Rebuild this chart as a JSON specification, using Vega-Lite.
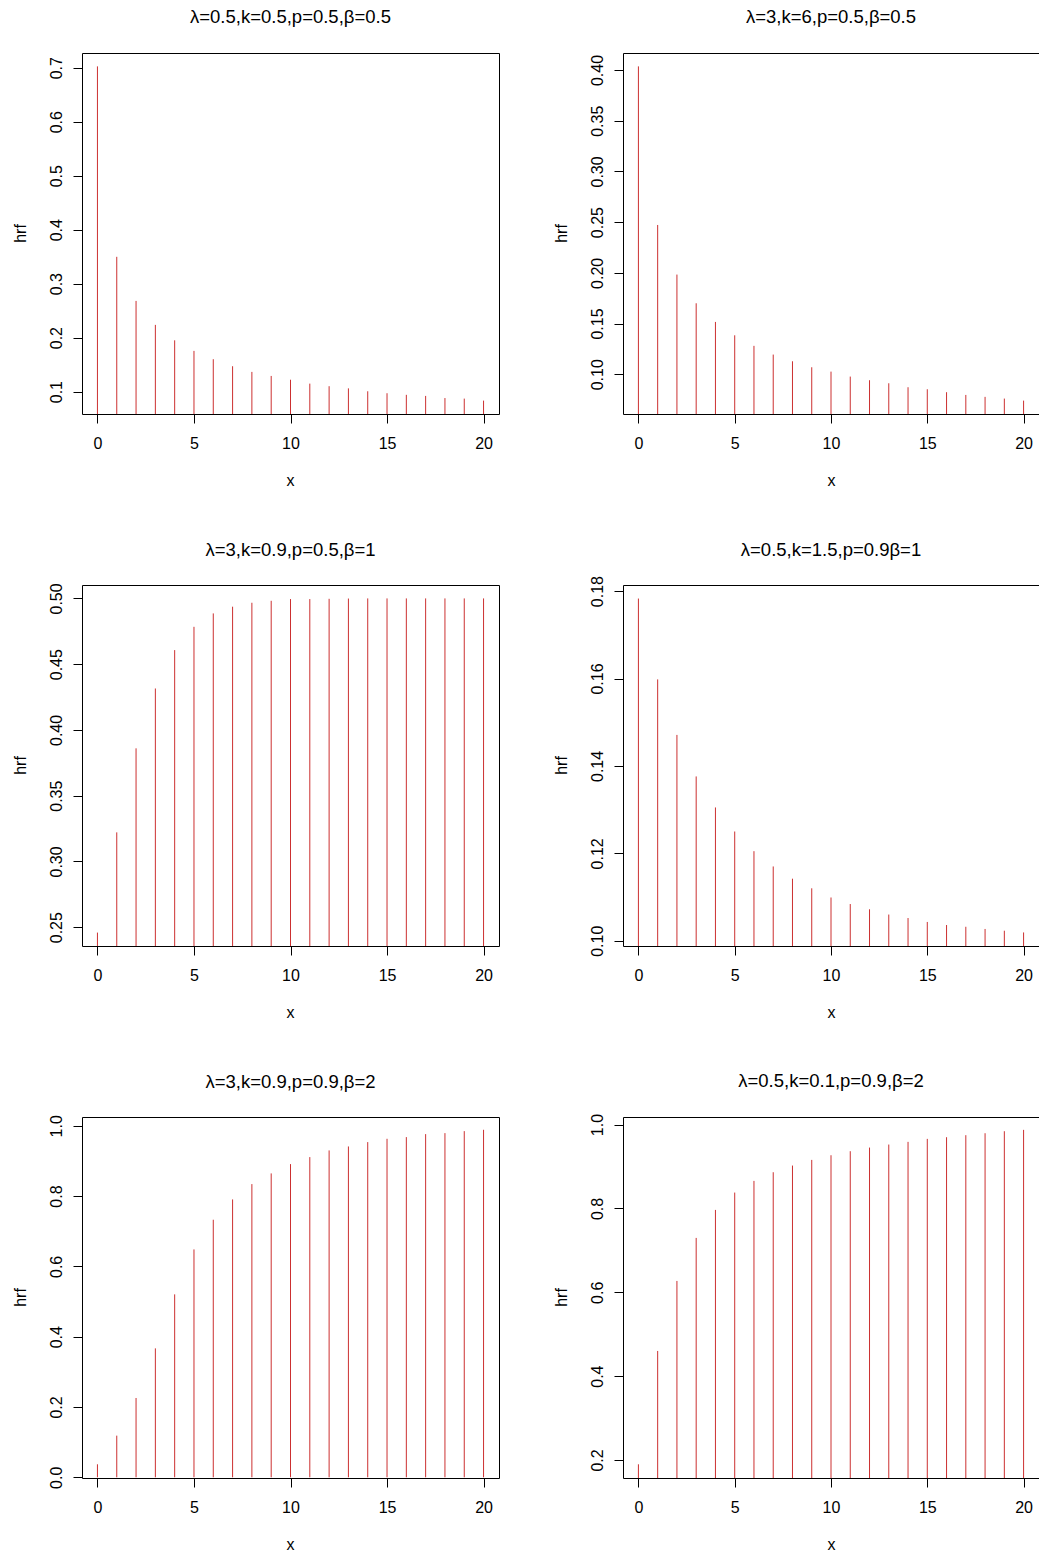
{
  "$schema": "https://vega.github.io/schema/vega-lite/v6.json",
  "background": "white",
  "padding": {"left": 11, "top": 7, "right": 0, "bottom": 0},
  "datasets": {
    "hrf": [
      {"panel":1,"x":0,"hrf":0.7025},{"panel":1,"x":1,"hrf":0.3497},{"panel":1,"x":2,"hrf":0.268},{"panel":1,"x":3,"hrf":0.2236},{"panel":1,"x":4,"hrf":0.195},{"panel":1,"x":5,"hrf":0.1754},{"panel":1,"x":6,"hrf":0.16},{"panel":1,"x":7,"hrf":0.147},{"panel":1,"x":8,"hrf":0.1365},{"panel":1,"x":9,"hrf":0.129},{"panel":1,"x":10,"hrf":0.122},{"panel":1,"x":11,"hrf":0.1148},{"panel":1,"x":12,"hrf":0.110},{"panel":1,"x":13,"hrf":0.106},{"panel":1,"x":14,"hrf":0.1006},{"panel":1,"x":15,"hrf":0.097},{"panel":1,"x":16,"hrf":0.094},{"panel":1,"x":17,"hrf":0.092},{"panel":1,"x":18,"hrf":0.088},{"panel":1,"x":19,"hrf":0.087},{"panel":1,"x":20,"hrf":0.0833},
      {"panel":2,"x":0,"hrf":0.4036},{"panel":2,"x":1,"hrf":0.2472},{"panel":2,"x":2,"hrf":0.1983},{"panel":2,"x":3,"hrf":0.170},{"panel":2,"x":4,"hrf":0.1516},{"panel":2,"x":5,"hrf":0.1384},{"panel":2,"x":6,"hrf":0.128},{"panel":2,"x":7,"hrf":0.1194},{"panel":2,"x":8,"hrf":0.1128},{"panel":2,"x":9,"hrf":0.1069},{"panel":2,"x":10,"hrf":0.1026},{"panel":2,"x":11,"hrf":0.0977},{"panel":2,"x":12,"hrf":0.0941},{"panel":2,"x":13,"hrf":0.0911},{"panel":2,"x":14,"hrf":0.0872},{"panel":2,"x":15,"hrf":0.0852},{"panel":2,"x":16,"hrf":0.0823},{"panel":2,"x":17,"hrf":0.0796},{"panel":2,"x":18,"hrf":0.0777},{"panel":2,"x":19,"hrf":0.076},{"panel":2,"x":20,"hrf":0.074},
      {"panel":3,"x":0,"hrf":0.2459},{"panel":3,"x":1,"hrf":0.3221},{"panel":3,"x":2,"hrf":0.386},{"panel":3,"x":3,"hrf":0.4315},{"panel":3,"x":4,"hrf":0.4607},{"panel":3,"x":5,"hrf":0.4784},{"panel":3,"x":6,"hrf":0.4886},{"panel":3,"x":7,"hrf":0.4937},{"panel":3,"x":8,"hrf":0.4967},{"panel":3,"x":9,"hrf":0.4982},{"panel":3,"x":10,"hrf":0.4995},{"panel":3,"x":11,"hrf":0.4995},{"panel":3,"x":12,"hrf":0.4997},{"panel":3,"x":13,"hrf":0.4999},{"panel":3,"x":14,"hrf":0.5},{"panel":3,"x":15,"hrf":0.5},{"panel":3,"x":16,"hrf":0.5},{"panel":3,"x":17,"hrf":0.5},{"panel":3,"x":18,"hrf":0.5},{"panel":3,"x":19,"hrf":0.5},{"panel":3,"x":20,"hrf":0.5},
      {"panel":4,"x":0,"hrf":0.1783},{"panel":4,"x":1,"hrf":0.1598},{"panel":4,"x":2,"hrf":0.1471},{"panel":4,"x":3,"hrf":0.1376},{"panel":4,"x":4,"hrf":0.1305},{"panel":4,"x":5,"hrf":0.125},{"panel":4,"x":6,"hrf":0.1205},{"panel":4,"x":7,"hrf":0.117},{"panel":4,"x":8,"hrf":0.1142},{"panel":4,"x":9,"hrf":0.112},{"panel":4,"x":10,"hrf":0.1099},{"panel":4,"x":11,"hrf":0.1084},{"panel":4,"x":12,"hrf":0.1072},{"panel":4,"x":13,"hrf":0.106},{"panel":4,"x":14,"hrf":0.1052},{"panel":4,"x":15,"hrf":0.1043},{"panel":4,"x":16,"hrf":0.1036},{"panel":4,"x":17,"hrf":0.1032},{"panel":4,"x":18,"hrf":0.1027},{"panel":4,"x":19,"hrf":0.1023},{"panel":4,"x":20,"hrf":0.1019},
      {"panel":5,"x":0,"hrf":0.037},{"panel":5,"x":1,"hrf":0.1185},{"panel":5,"x":2,"hrf":0.2256},{"panel":5,"x":3,"hrf":0.3668},{"panel":5,"x":4,"hrf":0.5204},{"panel":5,"x":5,"hrf":0.6483},{"panel":5,"x":6,"hrf":0.7327},{"panel":5,"x":7,"hrf":0.7905},{"panel":5,"x":8,"hrf":0.8341},{"panel":5,"x":9,"hrf":0.8645},{"panel":5,"x":10,"hrf":0.891},{"panel":5,"x":11,"hrf":0.9109},{"panel":5,"x":12,"hrf":0.9299},{"panel":5,"x":13,"hrf":0.9412},{"panel":5,"x":14,"hrf":0.9536},{"panel":5,"x":15,"hrf":0.963},{"panel":5,"x":16,"hrf":0.9678},{"panel":5,"x":17,"hrf":0.9763},{"panel":5,"x":18,"hrf":0.9791},{"panel":5,"x":19,"hrf":0.9848},{"panel":5,"x":20,"hrf":0.9886},
      {"panel":6,"x":0,"hrf":0.1897},{"panel":6,"x":1,"hrf":0.46},{"panel":6,"x":2,"hrf":0.627},{"panel":6,"x":3,"hrf":0.7296},{"panel":6,"x":4,"hrf":0.7964},{"panel":6,"x":5,"hrf":0.8378},{"panel":6,"x":6,"hrf":0.8656},{"panel":6,"x":7,"hrf":0.8863},{"panel":6,"x":8,"hrf":0.9022},{"panel":6,"x":9,"hrf":0.9157},{"panel":6,"x":10,"hrf":0.9268},{"panel":6,"x":11,"hrf":0.9364},{"panel":6,"x":12,"hrf":0.9451},{"panel":6,"x":13,"hrf":0.9523},{"panel":6,"x":14,"hrf":0.9587},{"panel":6,"x":15,"hrf":0.9658},{"panel":6,"x":16,"hrf":0.9698},{"panel":6,"x":17,"hrf":0.9746},{"panel":6,"x":18,"hrf":0.9793},{"panel":6,"x":19,"hrf":0.9841},{"panel":6,"x":20,"hrf":0.9873}
    ]
  },
  "columns": 2,
  "bounds": "flush",
  "spacing": {"column": 124, "row": 171},
  "concat": [
    {
      "title": {"text": "λ=0.5,k=0.5,p=0.5,β=0.5", "offset": 27},
      "width": 417, "height": 361,
      "data": {"name": "hrf"},
      "transform": [{"filter": "datum.panel == 1"}],
      "mark": {"type": "rule", "clip": true, "color": "#cc3030", "strokeWidth": 1},
      "encoding": {
        "x": {"field": "x", "type": "quantitative", "scale": {"domain": [-0.8, 20.8], "nice": false, "zero": false}, "axis": {"values": [0,5,10,15,20], "format": "d", "title": "x"}},
        "y": {"field": "hrf", "type": "quantitative", "scale": {"domain": [0.0585, 0.7273], "nice": false, "zero": false}, "axis": {"values": [0.1,0.2,0.3,0.4,0.5,0.6,0.7], "format": ".1f", "title": "hrf"}},
        "y2": {"datum": 0}
      }
    },
    {
      "title": {"text": "λ=3,k=6,p=0.5,β=0.5", "offset": 27},
      "width": 416, "height": 361,
      "data": {"name": "hrf"},
      "transform": [{"filter": "datum.panel == 2"}],
      "mark": {"type": "rule", "clip": true, "color": "#cc3030", "strokeWidth": 1},
      "encoding": {
        "x": {"field": "x", "type": "quantitative", "scale": {"domain": [-0.8, 20.8], "nice": false, "zero": false}, "axis": {"values": [0,5,10,15,20], "format": "d", "title": "x"}},
        "y": {"field": "hrf", "type": "quantitative", "scale": {"domain": [0.0608, 0.4168], "nice": false, "zero": false}, "axis": {"values": [0.10,0.15,0.20,0.25,0.30,0.35,0.40], "format": ".2f", "title": "hrf"}},
        "y2": {"datum": 0}
      }
    },
    {
      "title": {"text": "λ=3,k=0.9,p=0.5,β=1", "offset": 23.5},
      "width": 417, "height": 361,
      "data": {"name": "hrf"},
      "transform": [{"filter": "datum.panel == 3"}],
      "mark": {"type": "rule", "clip": true, "color": "#cc3030", "strokeWidth": 1},
      "encoding": {
        "x": {"field": "x", "type": "quantitative", "scale": {"domain": [-0.8, 20.8], "nice": false, "zero": false}, "axis": {"values": [0,5,10,15,20], "format": "d", "title": "x"}},
        "y": {"field": "hrf", "type": "quantitative", "scale": {"domain": [0.2357, 0.5102], "nice": false, "zero": false}, "axis": {"values": [0.25,0.30,0.35,0.40,0.45,0.50], "format": ".2f", "title": "hrf"}},
        "y2": {"datum": 0}
      }
    },
    {
      "title": {"text": "λ=0.5,k=1.5,p=0.9β=1", "offset": 16.5},
      "width": 416, "height": 361,
      "data": {"name": "hrf"},
      "transform": [{"filter": "datum.panel == 4"}],
      "mark": {"type": "rule", "clip": true, "color": "#cc3030", "strokeWidth": 1},
      "encoding": {
        "x": {"field": "x", "type": "quantitative", "scale": {"domain": [-0.8, 20.8], "nice": false, "zero": false}, "axis": {"values": [0,5,10,15,20], "format": "d", "title": "x"}},
        "y": {"field": "hrf", "type": "quantitative", "scale": {"domain": [0.0988, 0.1814], "nice": false, "zero": false}, "axis": {"values": [0.10,0.12,0.14,0.16,0.18], "format": ".2f", "title": "hrf"}},
        "y2": {"datum": 0}
      }
    },
    {
      "title": {"text": "λ=3,k=0.9,p=0.9,β=2", "offset": 23.5},
      "width": 417, "height": 361,
      "data": {"name": "hrf"},
      "transform": [{"filter": "datum.panel == 5"}],
      "mark": {"type": "rule", "clip": true, "color": "#cc3030", "strokeWidth": 1},
      "encoding": {
        "x": {"field": "x", "type": "quantitative", "scale": {"domain": [-0.8, 20.8], "nice": false, "zero": false}, "axis": {"values": [0,5,10,15,20], "format": "d", "title": "x"}},
        "y": {"field": "hrf", "type": "quantitative", "scale": {"domain": [-0.002, 1.025], "nice": false, "zero": false}, "axis": {"values": [0,0.2,0.4,0.6,0.8,1.0], "format": ".1f", "title": "hrf"}},
        "y2": {"datum": 0}
      }
    },
    {
      "title": {"text": "λ=0.5,k=0.1,p=0.9,β=2", "offset": 22.5},
      "width": 416, "height": 361,
      "data": {"name": "hrf"},
      "transform": [{"filter": "datum.panel == 6"}],
      "mark": {"type": "rule", "clip": true, "color": "#cc3030", "strokeWidth": 1},
      "encoding": {
        "x": {"field": "x", "type": "quantitative", "scale": {"domain": [-0.8, 20.8], "nice": false, "zero": false}, "axis": {"values": [0,5,10,15,20], "format": "d", "title": "x"}},
        "y": {"field": "hrf", "type": "quantitative", "scale": {"domain": [0.157, 1.018], "nice": false, "zero": false}, "axis": {"values": [0.2,0.4,0.6,0.8,1.0], "format": ".1f", "title": "hrf"}},
        "y2": {"datum": 0}
      }
    }
  ],
  "config": {
    "font": "Liberation Sans",
    "view": {"stroke": "black", "strokeWidth": 1},
    "axis": {"domain": false, "grid": false, "tickColor": "black", "tickSize": 9, "tickWidth": 1, "labelFontSize": 16, "labelColor": "black", "labelFont": "Liberation Sans", "titleFont": "Liberation Sans", "titleFontSize": 16, "titleFontWeight": "normal", "titleColor": "black", "labelFlush": false, "labelOverlap": false},
    "axisX": {"labelBaseline": "alphabetic", "labelPadding": 25, "titleBaseline": "alphabetic", "titleX": 208, "titleY": 71, "titleAlign": "center"},
    "axisY": {"labelAngle": -90, "labelAlign": "center", "labelBaseline": "alphabetic", "labelPadding": 12, "titleAngle": -90, "titleBaseline": "alphabetic", "titleAlign": "center", "titleX": -57, "titleY": 180},
    "title": {"fontSize": 18.5, "fontWeight": "normal", "color": "black", "font": "Liberation Sans", "baseline": "alphabetic", "frame": "group", "anchor": "middle"}
  }
}
